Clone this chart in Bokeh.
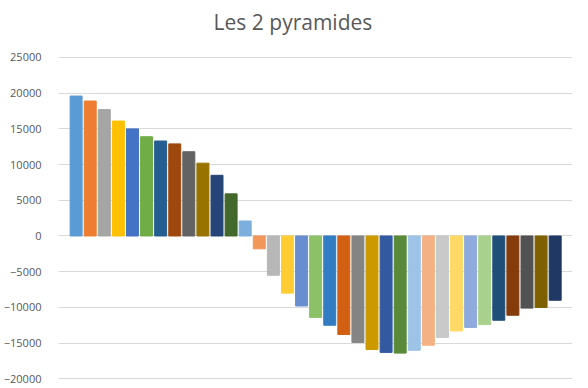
from bokeh.plotting import figure
from bokeh.models import Range1d, FixedTicker, ColumnDataSource, Label
from bokeh.embed import file_html
from bokeh.resources import INLINE

categories = list(range(1, 36))
values = [19600, 18900, 17700, 16100, 15000, 13900, 13300, 12900, 11800, 10200,
          8500, 5900, 2100, -1800, -5500, -8000, -9800, -11400, -12500, -13800,
          -14900, -15900, -16300, -16400, -16000, -15300, -14200, -13300, -12800,
          -12400, -11800, -11100, -10100, -10000, -9000]
colors = ["#5B9BD5", "#ED7D31", "#A5A5A5", "#FFC000", "#4472C4", "#70AD47",
          "#255E91", "#9E480E", "#636363", "#997300", "#264478", "#43682B",
          "#7CAFDD", "#F1975A", "#B7B7B7", "#FFCD33", "#698ED0", "#8CC168",
          "#327DC2", "#D26012", "#848484", "#CC9A00", "#335AA1", "#5A8A39",
          "#9DC3E6", "#F4B183", "#C9C9C9", "#FFD966", "#8FAADC", "#A9D18E",
          "#1F4E79", "#843C0C", "#525252", "#7F6000", "#203864"]
y_ticks = [-20000, -15000, -10000, -5000, 0, 5000, 10000, 15000, 20000, 25000]
title_text = "Les 2 pyramides"

source = ColumnDataSource(dict(x=categories, top=values, color=colors))

# frame spans the full canvas height; the area above 25000 holds the title
p = figure(frame_width=514, frame_height=386, output_backend="svg",
           toolbar_location=None,
           x_range=Range1d(-0.25, 36.23), y_range=Range1d(-21078, 32980),
           min_border_left=55, min_border_right=3, min_border_top=0,
           min_border_bottom=0)
p.outline_line_color = None
p.background_fill_color = "white"
p.border_fill_color = "white"

p.vbar(x="x", top="top", bottom=0, width=0.85, color="color", source=source)

title = Label(x=16.39, y=29900, text=title_text,
              text_align="center", text_baseline="middle",
              text_font="Open Sans", text_font_size="21px", text_color="#595959")
p.add_layout(title)

p.xaxis.visible = False
p.xgrid.grid_line_color = None
p.ygrid.grid_line_color = "#D9D9D9"
p.ygrid.grid_line_width = 1

p.yaxis.ticker = FixedTicker(ticks=y_ticks)
p.yaxis.axis_line_color = None
p.yaxis.major_tick_line_color = None
p.yaxis.minor_tick_line_color = None
p.yaxis.major_tick_out = 0
p.yaxis.major_tick_in = 0
p.yaxis.minor_tick_out = 0
p.yaxis.major_label_standoff = 17
p.yaxis.major_label_text_font = "Open Sans"
p.yaxis.major_label_text_font_size = "11px"
p.yaxis.major_label_text_color = "#595959"

open("out.html", "w").write(file_html(p, INLINE))
